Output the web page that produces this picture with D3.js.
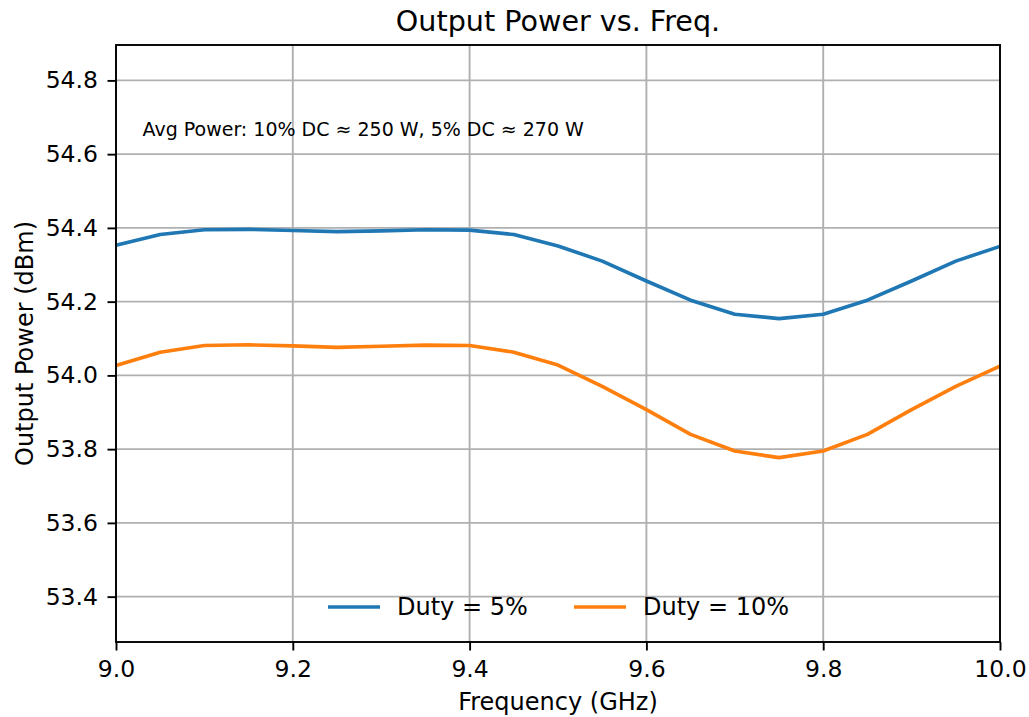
<!DOCTYPE html>
<html>
<head>
<meta charset="utf-8">
<script src="https://cdn.jsdelivr.net/npm/d3@7"></script>
<style>
  body { margin: 0; background: #fff; }
  svg { display: block; font-family: "DejaVu Sans", sans-serif; }
</style>
</head>
<body>
<div id="viz"></div>
<script>
const freqs = [9.0, 9.05, 9.1, 9.15, 9.2, 9.25, 9.3, 9.35, 9.4, 9.45, 9.5,
               9.55, 9.6, 9.65, 9.7, 9.75, 9.8, 9.85, 9.9, 9.95, 10.0];
const duty5 = [54.353, 54.382, 54.395, 54.396, 54.393, 54.390, 54.392, 54.395, 54.394, 54.382, 54.351,
               54.310, 54.256, 54.204, 54.166, 54.154, 54.166, 54.204, 54.256, 54.310, 54.350];
const duty10 = [54.027, 54.063, 54.081, 54.083, 54.080, 54.076, 54.079, 54.082, 54.081, 54.063, 54.028,
                53.970, 53.907, 53.840, 53.795, 53.777, 53.795, 53.840, 53.907, 53.970, 54.025];
const seriesNames = ["Duty = 5%", "Duty = 10%"];
const xTicks = [9.0, 9.2, 9.4, 9.6, 9.8, 10.0];
const yTicks = [53.4, 53.6, 53.8, 54.0, 54.2, 54.4, 54.6, 54.8];
const note = "Avg Power: 10% DC \u2248 250 W, 5% DC \u2248 270 W";

const W = 1029, H = 717;
const m = {left: 116, right: 1000, top: 45, bottom: 642};
const colors = ["#1f77b4", "#ff7f0e"];

const svg = d3.select("#viz").append("svg")
    .attr("width", W)
    .attr("height", H);

const x = d3.scaleLinear().domain([9.0, 10.0]).range([m.left, m.right]);
// y limits: 0.5 dB margin around the data
const yMin = d3.min(duty10) - 0.5, yMax = d3.max(duty5) + 0.5;
const y = d3.scaleLinear().domain([yMin, yMax]).range([m.bottom, m.top]);

// grid
const grid = svg.append("g").attr("stroke", "#b0b0b0").attr("stroke-width", 1.9);
grid.selectAll(".gx").data(xTicks).join("line")
    .attr("x1", d => x(d)).attr("x2", d => x(d))
    .attr("y1", m.top).attr("y2", m.bottom);
grid.selectAll(".gy").data(yTicks).join("line")
    .attr("x1", m.left).attr("x2", m.right)
    .attr("y1", d => y(d)).attr("y2", d => y(d));

// lines
const line = d3.line().x((d, i) => x(freqs[i])).y(d => y(d));
[duty5, duty10].forEach((s, k) => {
  svg.append("path")
      .datum(s)
      .attr("fill", "none")
      .attr("stroke", colors[k])
      .attr("stroke-width", 3.6)
      .attr("stroke-linejoin", "round")
      .attr("d", line);
});

// axes
const xAxis = svg.append("g")
    .attr("transform", `translate(0,${m.bottom})`)
    .call(d3.axisBottom(x).tickValues(xTicks).tickFormat(d3.format(".1f")).tickSizeOuter(0).tickSize(8.5).tickPadding(9.5));
const yAxis = svg.append("g")
    .attr("transform", `translate(${m.left},0)`)
    .call(d3.axisLeft(y).tickValues(yTicks).tickFormat(d3.format(".1f")).tickSizeOuter(0).tickSize(8.5).tickPadding(9.5));
[xAxis, yAxis].forEach(a => {
  a.select(".domain").remove();
  a.selectAll("line").attr("stroke", "#000").attr("stroke-width", 1.9);
  a.selectAll("text").attr("font-family", "DejaVu Sans").attr("font-size", 23.5).attr("fill", "#000");
});

// frame
svg.append("rect")
    .attr("x", m.left).attr("y", m.top)
    .attr("width", m.right - m.left).attr("height", m.bottom - m.top)
    .attr("fill", "none").attr("stroke", "#000").attr("stroke-width", 1.9);

// title and labels
svg.append("text")
    .attr("x", (m.left + m.right) / 2).attr("y", 31)
    .attr("text-anchor", "middle").attr("font-size", 28.6)
    .text("Output Power vs. Freq.");
svg.append("text")
    .attr("x", (m.left + m.right) / 2).attr("y", 710)
    .attr("text-anchor", "middle").attr("font-size", 24)
    .text("Frequency (GHz)");
svg.append("text")
    .attr("transform", `translate(33,${(m.top + m.bottom) / 2}) rotate(-90)`)
    .attr("text-anchor", "middle").attr("font-size", 24)
    .text("Output Power (dBm)");

svg.append("text")
    .attr("x", x(9.03)).attr("y", y(54.65))
    .attr("font-size", 19)
    .text(note);

// legend
const legend = svg.append("g");
const legX = [328, 574];
seriesNames.forEach((name, k) => {
  const g = legend.append("g").attr("transform", `translate(${legX[k]},607)`);
  g.append("line").attr("x1", 0).attr("x2", 52).attr("y1", 0).attr("y2", 0)
      .attr("stroke", colors[k]).attr("stroke-width", 3.6);
  g.append("text").attr("x", 69).attr("y", 0).attr("dy", "0.35em")
      .attr("font-size", 24).text(name);
});
</script>
</body>
</html>
